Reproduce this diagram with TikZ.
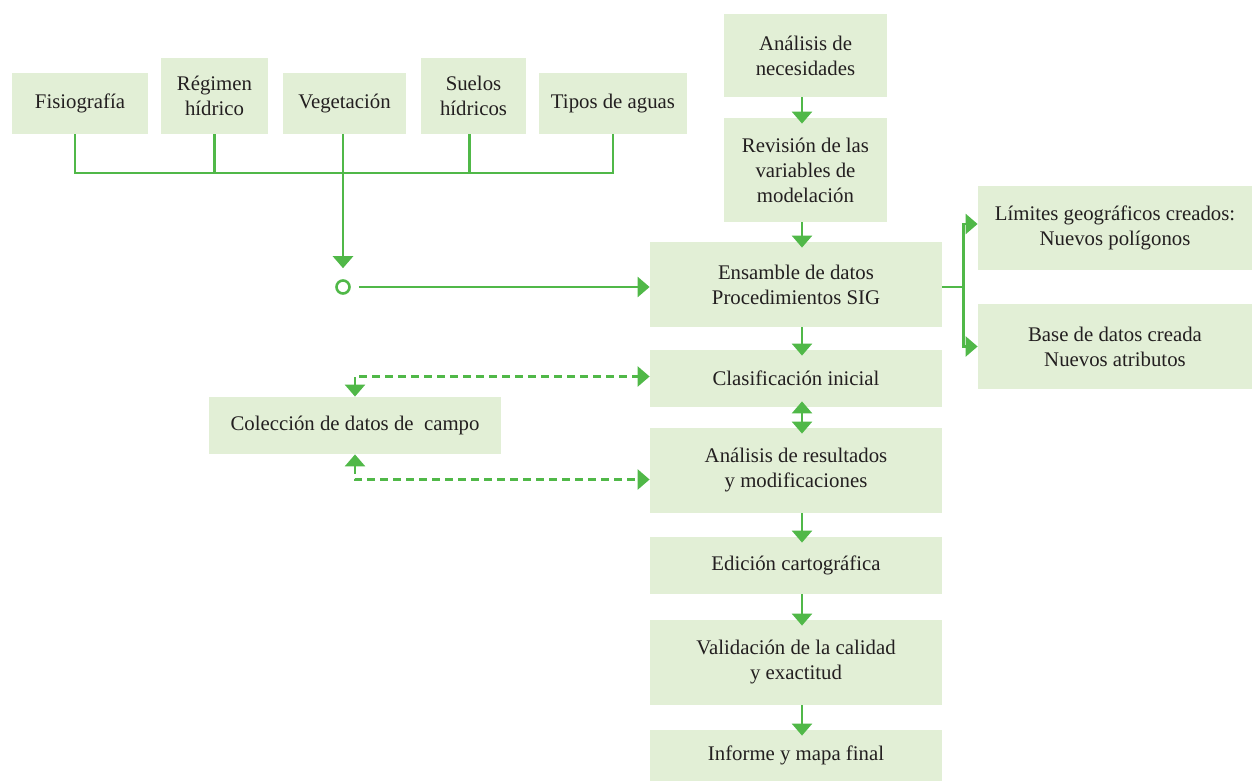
\documentclass[tikz,border=0pt]{standalone}
\usepackage{fontspec}
\setmainfont{Liberation Serif}
\usepackage{xcolor}
\definecolor{cFill}{HTML}{E2EFD6}
\definecolor{cLine}{HTML}{50B848}
\definecolor{cText}{HTML}{231F20}
\usetikzlibrary{positioning,arrows.meta}
\tikzset{
  node-box/.style={fill=cFill,inner sep=2pt,align=center,text=cText,
    font=\fontsize{10.4}{12.5}\selectfont},
  node-col/.style={node-box,minimum width=146pt},
  node-hub/.style={circle,draw=cLine,line width=1.3pt,fill=white,
    inner sep=0pt,minimum size=6.5pt},
  line/.style={line width=1.3pt,draw=cLine},
  arrow/.style={-{Triangle[length=6pt,width=10pt]},line width=1.3pt,draw=cLine},
  arrow-col/.style={arrow,shorten >=-3pt},
  arrow-both/.style={{Triangle[length=6pt,width=10pt]}-{Triangle[length=6pt,width=10pt]},
    line width=1.3pt,draw=cLine},
  arrow-dash/.style={arrow-both,dash pattern=on 4pt off 2.5pt},
}

\begin{document}
\begin{tikzpicture}[x=0.5pt,y=-0.5pt]
  \useasboundingbox (0,0) rectangle (1252,781);
  % fuentes de datos
  \node[node-box,minimum width=68pt,minimum height=30.5pt] (fisio)   at (80,103.5)  {Fisiografía};
  \node[node-box,minimum width=53.5pt,minimum height=38pt] (regimen) at (214.5,96)  {Régimen\\hídrico};
  \node[node-box,minimum width=61.5pt,minimum height=30.5pt] (veget)  at (344.5,103.5) {Vegetación};
  \node[node-box,minimum width=52.5pt,minimum height=38pt] (suelos)  at (473.5,96)  {Suelos\\hídricos};
  \node[node-box,minimum width=74pt,minimum height=30.5pt] (tipos)   at (613,103.5) {Tipos de aguas};
  \coordinate (bus) at (343,173);
  \node[node-hub] (hub) at (343,287) {};

  % columna principal
  \coordinate (axis) at (802,0);
  \node[node-box,minimum width=81.5pt,minimum height=41.5pt] (necesid) at (805.5,55.5) {Análisis de\\necesidades};
  \node[node-box,minimum width=81.5pt,minimum height=52pt] (revision) at (805.5,170) {Revisión de las\\variables de\\modelación};
  \node[node-col,minimum height=42.5pt] (ensamble) at (796,284.5) {Ensamble de datos\\Procedimientos SIG};
  \node[node-col,minimum height=28.5pt] (clasif) at (796,378.5) {Clasificación inicial};
  \node[node-col,minimum height=42.5pt] (result) at (796,470.5) {Análisis de resultados\\y modificaciones};
  \node[node-col,minimum height=28.5pt] (edicion) at (796,565.5) {Edición cartográfica};
  \node[node-col,minimum height=42.5pt] (valid) at (796,662.5) {Validación de la calidad\\y exactitud};
  \node[node-col,minimum height=25.5pt] (informe) at (796,755.5) {Informe y mapa final};

  % salidas y campo
  \node[node-box,minimum width=137pt,minimum height=42pt] (limites) at (1115,228) {Límites geográficos creados:\\Nuevos polígonos};
  \node[node-box,minimum width=137pt,minimum height=42.5pt] (basedat) at (1115,346.5) {Base de datos creada\\Nuevos atributos};
  \node[node-col,minimum height=28.5pt] (campo) at (355,425.5) {Colección de datos de~ campo};

  % conectores
  \draw[line] ([xshift=-2.5pt]fisio.south) -- ([xshift=-2.5pt]fisio.south |- bus)
    -- (tipos.south |- bus) -- (tipos.south);
  \draw[line] (regimen.south) -- (regimen.south |- bus);
  \draw[line] ([xshift=-2pt]suelos.south) -- ([xshift=-2pt]suelos.south |- bus);
  \draw[arrow,shorten >=5.5pt] (veget.south -| hub) -- (hub.north);
  \draw[arrow] (hub.east) ++(8,0) -- (ensamble.west |- hub);

  \draw[arrow-col] (necesid.south -| axis) -- (revision.north -| axis);
  \draw[arrow-col] (revision.south -| axis) -- (ensamble.north -| axis);
  \draw[arrow-col] (ensamble.south -| axis) -- (clasif.north -| axis);
  \draw[arrow-both,shorten <=-3pt,shorten >=-3pt] (clasif.south -| axis) -- (result.north -| axis);
  \draw[arrow-col] (result.south -| axis) -- (edicion.north -| axis);
  \draw[arrow-col] (edicion.south -| axis) -- (valid.north -| axis);
  \draw[arrow-col] (valid.south -| axis) -- (informe.north -| axis);

  \draw[line] (ensamble.east |- hub) -- ++(21,0) coordinate (split);
  \draw[arrow] (split) |- ([yshift=2pt]limites.west);
  \draw[arrow] (split) |- (basedat.west);

  \draw[arrow-dash] (campo.north) |- ([yshift=1pt]clasif.west);
  \draw[arrow-dash] (campo.south) |- ([yshift=-4.5pt]result.west);
\end{tikzpicture}
\end{document}
